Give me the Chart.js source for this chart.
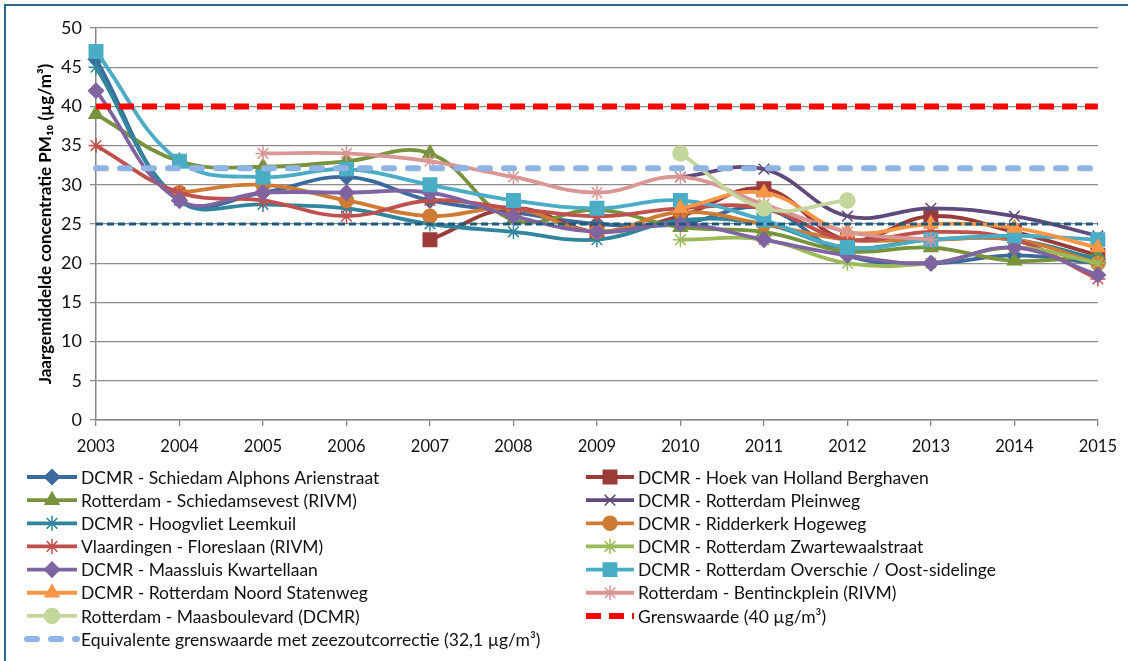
<!DOCTYPE html>
<html>
<head>
<meta charset="utf-8">
<script src="https://cdn.jsdelivr.net/npm/chart.js@4.4.1/dist/chart.umd.min.js"></script>
<style>
html,body{margin:0;padding:0;background:#fff;}
#wrap{position:relative;width:1128px;height:661px;overflow:hidden;}
#frame{position:absolute;left:4px;top:4px;width:1200px;height:700px;border-left:2px solid #2B6A8E;border-top:2px solid #2B6A8E;pointer-events:none;}
canvas{position:absolute;left:0;top:0;}
</style>
</head>
<body>
<div id="wrap">
<canvas id="c" width="1128" height="661"></canvas>
<div id="frame"></div>
</div>
<script>
const years = ['2003','2004','2005','2006','2007','2008','2009','2010','2011','2012','2013','2014','2015'];
const yTicks = [0,5,10,15,20,25,30,35,40,45,50];

const schiedam       = [46, 28, 29, 31, 28, 26.5, 25, 25, 27, 21, 20, 21, 20];
const hoekVanHolland = [null, null, null, null, 23, 27, 24, 26, 29.5, 23, 26, 24, 21];
const schiedamsevest = [39, 33, 32.3, 33, 34, 25.5, 26.8, 24.6, 24, 21.5, 22, 20.3, 21];
const pleinweg       = [null, null, null, null, null, null, null, 31, 32, 26, 27, 26, 23.5];
const hoogvliet      = [45, 28, 27.5, 27, 25, 24, 23, 25.5, 25, 22, 23, 23, 20.5];
const ridderkerk     = [null, 29, 30, 28, 26, 27, 24, 26.5, 25, 23, 23, 23, 20];
const vlaardingen    = [35, 29, 28, 26, 28, 27, 26, 27, 27, 23, 24, 23, 18];
const zwartewaal     = [null, null, null, null, null, null, null, 23, 23, 20, 20, 22, 20];
const maassluis      = [42, 28, 29, 29, 29, 26, 24, 25, 23, 21, 20, 22, 18.5];
const overschie      = [47, 33, 31, 32, 30, 28, 27, 28, 25.5, 22, 23, 23.5, 23];
const noordStatenweg = [null, null, null, null, null, null, null, 27, 29, 24, 25, 24.5, 22];
const bentinckplein  = [null, null, 34, 34, 33, 31, 29, 31, 27.5, 24, 23, null, null];
const maasboulevard  = [null, null, null, null, null, null, null, 34, 27, 28, null, null, null];
const grenswaarde    = [40, 40, 40, 40, 40, 40, 40, 40, 40, 40, 40, 40, 40];
const equivalent     = [32.1, 32.1, 32.1, 32.1, 32.1, 32.1, 32.1, 32.1, 32.1, 32.1, 32.1, 32.1, 32.1];
const referentie25   = [25, 25, 25, 25, 25, 25, 25, 25, 25, 25, 25, 25, 25];

function series(label, data, color, style, radius, i){
  return {
    label, data,
    borderColor: color, backgroundColor: color,
    borderWidth: 3.8, tension: 0.4, spanGaps: false,
    pointStyle: style, pointRadius: radius,
    pointBackgroundColor: color, pointBorderColor: color, pointBorderWidth: 1.5,
    order: -i
  };
}
function refLine(label, data, color, width, dash, cap, i){
  return {
    label, data, borderColor: color, backgroundColor: color,
    borderWidth: width, borderDash: dash, borderCapStyle: cap,
    pointRadius: 0, tension: 0, order: -i
  };
}

const datasets = [
  series('DCMR - Schiedam Alphons Arienstraat', schiedam, '#3C6A9C', 'rectRot', 7.5, 1),
  series('DCMR - Hoek van Holland Berghaven', hoekVanHolland, '#9B3B38', 'rect', 9.5, 2),
  series('Rotterdam - Schiedamsevest (RIVM)', schiedamsevest, '#77933C', 'triangle', 8, 3),
  series('DCMR - Rotterdam Pleinweg', pleinweg, '#604A7B', 'crossRot', 7.5, 4),
  series('DCMR - Hoogvliet Leemkuil', hoogvliet, '#31859C', 'star', 7.5, 5),
  series('DCMR - Ridderkerk Hogeweg', ridderkerk, '#CF7B34', 'circle', 7, 6),
  series('Vlaardingen - Floreslaan (RIVM)', vlaardingen, '#C0504D', 'star', 7.5, 7),
  series('DCMR - Rotterdam Zwartewaalstraat', zwartewaal, '#9BBB59', 'star', 7.5, 8),
  series('DCMR - Maassluis Kwartellaan', maassluis, '#8064A2', 'rectRot', 7.5, 9),
  series('DCMR - Rotterdam Overschie / Oost-sidelinge', overschie, '#4BACC6', 'rect', 9.5, 10),
  series('DCMR - Rotterdam Noord Statenweg', noordStatenweg, '#F79646', 'triangle', 8, 11),
  series('Rotterdam - Bentinckplein (RIVM)', bentinckplein, '#D99694', 'star', 7.5, 12),
  series('Rotterdam - Maasboulevard (DCMR)', maasboulevard, '#C3D69B', 'circle', 7.5, 13),
  refLine('Grenswaarde (40 µg/m³)', grenswaarde, '#FF0000', 6, [15, 8], 'butt', 14),
  refLine('Equivalente grenswaarde met zeezoutcorrectie (32,1 µg/m³)', equivalent, '#8DB4E2', 6, [10, 14], 'round', 15),
  refLine('', referentie25, '#1C5A7D', 2.8, [7, 4], 'butt', 16)
];

const twoColLegend = {
  id: 'twoColLegend',
  afterDraw(chart){
    const ctx = chart.ctx;
    const items = chart.data.datasets.filter(d => d.label);
    items.forEach((ds, i) => {
      const col = i % 2, row = Math.floor(i / 2);
      const x0 = col ? 586 : 27, x1 = col ? 634 : 77, tx = col ? 638 : 81;
      const y = 477 + row * 23.15;
      ctx.save();
      ctx.strokeStyle = ds.borderColor;
      ctx.lineWidth = ds.borderWidth;
      ctx.lineCap = ds.borderCapStyle || 'butt';
      ctx.setLineDash(ds.borderDash || []);
      ctx.beginPath(); ctx.moveTo(x0, y); ctx.lineTo(x1, y); ctx.stroke();
      ctx.setLineDash([]);
      if (ds.pointRadius > 0) {
        ctx.fillStyle = ds.pointBackgroundColor;
        ctx.strokeStyle = ds.pointBorderColor;
        ctx.lineWidth = ds.pointBorderWidth;
        Chart.helpers.drawPoint(ctx, {pointStyle: ds.pointStyle, radius: ds.pointRadius, rotation: 0, borderWidth: ds.pointBorderWidth}, (x0 + x1) / 2, y);
      }
      ctx.fillStyle = '#111';
      ctx.font = '17.5px Lato';
      ctx.textBaseline = 'middle';
      ctx.textAlign = 'left';
      ctx.fillText(ds.label, tx, y + 1);
      ctx.restore();
    });
  }
};

new Chart(document.getElementById('c'), {
  type: 'line',
  data: { labels: years, datasets },
  plugins: [twoColLegend],
  options: {
    responsive: false, animation: false, devicePixelRatio: 1,
    layout: { padding: { left: 0, right: 26, top: 28, bottom: 201 } },
    plugins: { legend: { display: false }, tooltip: { enabled: false } },
    scales: {
      x: {
        type: 'category', offset: false,
        grid: { drawOnChartArea: false, drawTicks: true, tickLength: 6, color: '#868686', lineWidth: 1.3 },
        border: { display: true, color: '#868686', width: 1.5 },
        ticks: { color: '#111', font: { family: 'Lato', size: 16.5 }, padding: 11, maxRotation: 0, autoSkip: false },
        afterFit: s => { s.height = 40; }
      },
      y: {
        min: 0, max: 50,
        afterBuildTicks: s => { s.ticks = yTicks.map(v => ({ value: v })); },
        grid: { color: '#8C8C8C', lineWidth: 1.3, drawTicks: true, tickLength: 6 },
        border: { display: true, color: '#868686', width: 1.5 },
        ticks: { color: '#111', font: { family: 'Lato', size: 18 }, padding: 8 },
        title: { display: true, text: 'Jaargemiddelde concentratie PM₁₀ (µg/m³)', color: '#000',
                 font: { family: 'Lato', size: 17, weight: 'bold' }, padding: { top: 35, bottom: 0 } },
        afterFit: s => { s.width = 96; }
      }
    }
  }
});
</script>
</body>
</html>
